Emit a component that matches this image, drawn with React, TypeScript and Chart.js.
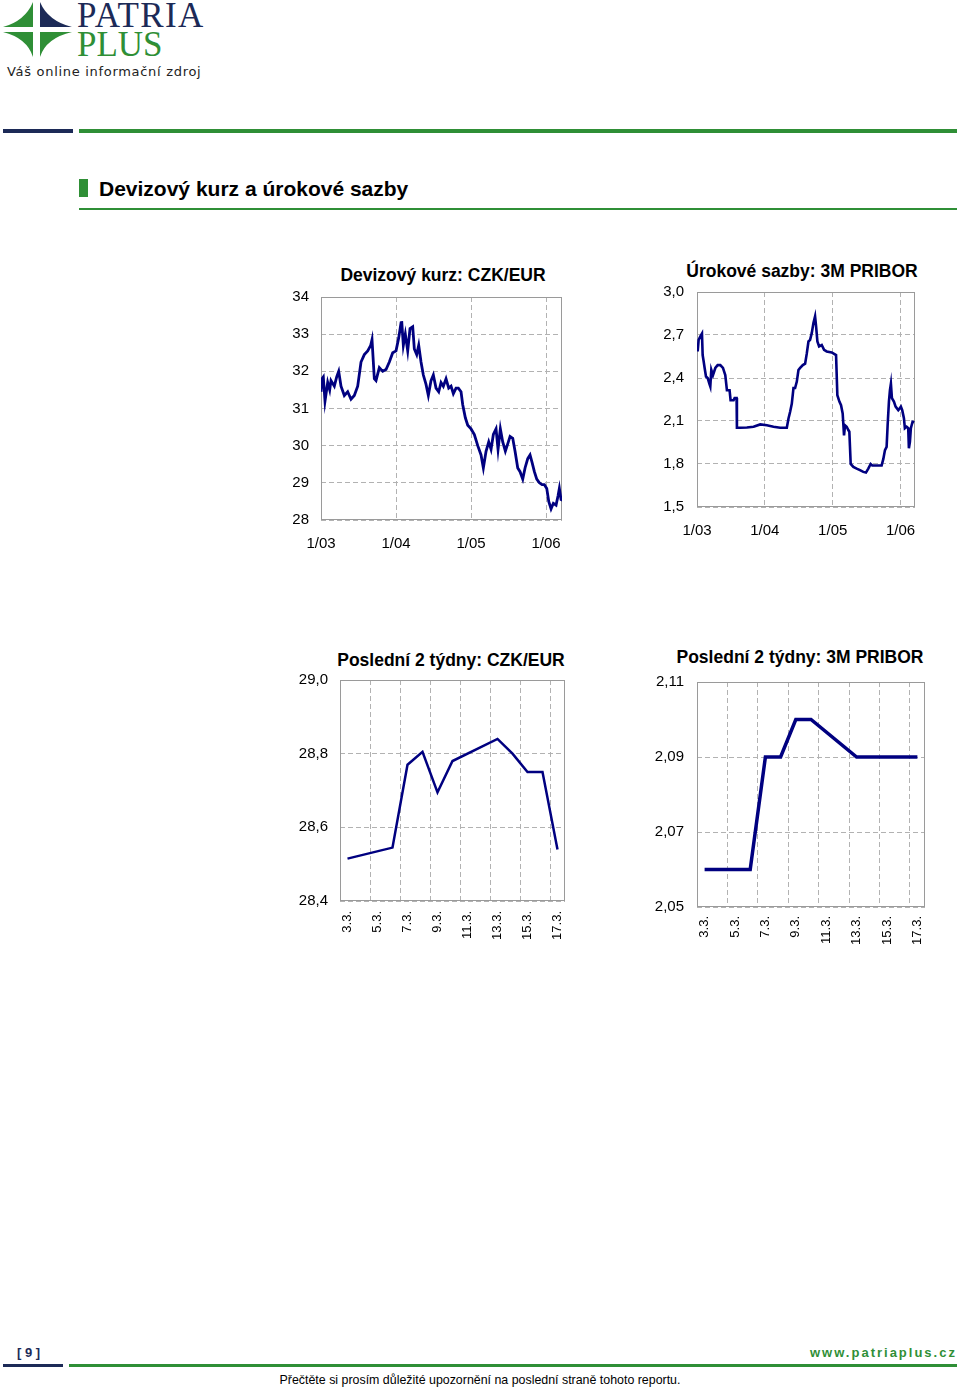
import React, { useEffect, useRef } from 'react';
import { Chart, registerables } from 'chart.js';

Chart.register(...registerables);

// ---------- data ----------
// CZK/EUR, x = months since 1/2003
const fxMonths = [
  0.0, 0.16, 0.37, 0.64, 1.07, 1.39, 1.6, 2.13, 2.51, 2.83, 3.2, 3.73, 4.27, 4.8, 5.33, 5.87,
  6.4, 6.93, 7.47, 7.95, 8.16, 8.53, 8.8, 9.33, 9.87, 10.4, 10.93, 11.47, 12.0, 12.43, 12.8,
  12.91, 13.17, 13.49, 13.87, 14.24, 14.67, 14.93, 15.31, 15.63, 16.0, 16.37, 16.8, 17.17,
  17.6, 17.97, 18.4, 18.83, 19.2, 19.57, 20.0, 20.43, 20.8, 21.17, 21.6, 21.97, 22.4, 22.67,
  23.09, 23.47, 24.0, 24.53, 25.07, 25.6, 25.97, 26.4, 26.83, 27.2, 27.57, 28.0, 28.32, 28.69,
  29.07, 29.49, 29.87, 30.24, 30.67, 31.04, 31.47, 31.84, 32.27, 32.64, 33.07, 33.44, 33.76,
  34.13, 34.51, 34.93, 35.36, 35.73, 36.11, 36.43, 36.8, 37.17, 37.6, 37.92, 38.13, 38.4, 38.52,
];
const fxValues = [
  31.45, 31.8, 31.85, 31.2, 31.7, 31.5, 31.75, 31.6, 31.85, 32.0, 31.6, 31.35, 31.45, 31.25, 31.35, 31.6,
  32.25, 32.45, 32.55, 32.7, 32.85, 31.8, 31.75, 32.1, 32.0, 32.05, 32.25, 32.5, 32.55, 32.9, 33.3,
  33.35, 32.7, 33.0, 32.55, 33.15, 33.2, 32.6, 32.45, 32.7, 32.25, 31.9, 31.65, 31.35,
  31.75, 31.9, 31.55, 31.45, 31.7, 31.6, 31.8, 31.55, 31.6, 31.4, 31.55, 31.55, 31.45, 31.1,
  30.75, 30.55, 30.45, 30.3, 30.0, 29.75, 29.4, 29.85, 30.1, 29.9, 30.3, 30.45, 29.9, 30.45,
  30.1, 29.85, 30.05, 30.25, 30.2, 29.85, 29.4, 29.3, 29.1, 29.4, 29.65, 29.75, 29.55,
  29.3, 29.1, 29.0, 28.95, 28.95, 28.85, 28.5, 28.3, 28.45, 28.4, 28.65, 28.85, 28.55, 28.54,
];

// 3M PRIBOR, x = months since 1/2003
const priborMonths = [
  0.12, 0.29, 0.59, 0.88, 1.0, 1.18, 1.35, 1.59, 1.88, 2.18, 2.35, 2.53, 2.82, 3.24, 3.65, 4.12,
  4.59, 5.0, 5.29, 5.76, 5.94, 6.47, 6.65, 7.0, 7.06, 7.65, 8.82, 10.0, 11.18, 12.35, 13.53,
  14.71, 15.88, 16.18, 16.47, 16.76, 17.06, 17.35, 17.65, 17.94, 18.24, 18.71, 19.12, 19.41,
  19.71, 20.0, 20.29, 20.59, 20.88, 21.06, 21.29, 21.59, 22.06, 22.47, 22.94, 23.82, 24.59,
  24.82, 25.18, 25.47, 25.76, 26.0, 26.18, 26.47, 26.76, 26.94, 27.18, 27.65, 28.24, 28.82,
  29.41, 29.88, 30.29, 30.71, 31.0, 31.76, 32.65, 32.94, 33.24, 33.53, 33.71, 33.94, 34.12,
  34.29, 34.47, 34.82, 35.12, 35.59, 35.88, 36.06, 36.29, 36.59, 36.76, 37.06, 37.35, 37.47,
  37.65, 37.82, 38.12, 38.41, 38.52,
];
const priborValues = [
  2.585, 2.666, 2.69, 2.71, 2.56, 2.515, 2.47, 2.41, 2.4, 2.36, 2.34, 2.457, 2.42, 2.47, 2.49, 2.49,
  2.47, 2.42, 2.315, 2.315, 2.245, 2.245, 2.26, 2.26, 2.053, 2.053, 2.055, 2.06, 2.076, 2.07, 2.06,
  2.053, 2.053, 2.118, 2.165, 2.22, 2.33, 2.33, 2.375, 2.456, 2.47, 2.49, 2.5, 2.57,
  2.655, 2.666, 2.713, 2.783, 2.83, 2.76, 2.655, 2.62, 2.63, 2.596, 2.585, 2.578, 2.56,
  2.28, 2.235, 2.21, 2.153, 2.0, 2.07, 2.06, 2.037, 2.025, 1.8, 1.78, 1.768, 1.757,
  1.745, 1.74, 1.768, 1.8, 1.79, 1.79, 1.79, 1.834, 1.897, 1.92, 2.07, 2.235, 2.315,
  2.36, 2.26, 2.235, 2.2, 2.176, 2.19, 2.2, 2.176, 2.12, 2.05, 2.06, 2.05, 1.91,
  1.955, 2.05, 2.095, 2.09, 2.09,
];
const yearTickLabels = ['1/03', '1/04', '1/05', '1/06'];

// last two weeks (calendar days, weekends empty)
const dayLabels = [
  '3.3.', '4.3.', '5.3.', '6.3.', '7.3.', '8.3.', '9.3.', '10.3.',
  '11.3.', '12.3.', '13.3.', '14.3.', '15.3.', '16.3.', '17.3.',
];
const fxTwoWeeks = [28.515, null, null, 28.545, 28.77, 28.805, 28.695, 28.78, null, null, 28.84, 28.8, 28.75, 28.75, 28.54];
const priborTwoWeeks = [2.06, null, null, 2.06, 2.09, 2.09, 2.1, 2.1, null, null, 2.09, 2.09, 2.09, 2.09, 2.09];

const chartTitles = [
  'Devizový kurz: CZK/EUR',
  'Úrokové sazby: 3M PRIBOR',
  'Poslední 2 týdny: CZK/EUR',
  'Poslední 2 týdny: 3M PRIBOR',
];

// ---------- styles ----------
const NAVY = '#000080';
const GRID = '#b2b2b2';
const FRAME = '#9a9a9a';
const GREEN = '#2f8f36';
const DARKBLUE = '#1c2a57';
const FONT = "'Liberation Sans', Arial, Helvetica, sans-serif";

Chart.defaults.font.family = FONT;

const framePlugin = {
  id: 'plotFrame',
  beforeDatasetsDraw(chart: any) {
    const { ctx, chartArea } = chart;
    const l = Math.round(chartArea.left) + 0.5;
    const t = Math.round(chartArea.top) + 0.5;
    const r = Math.round(chartArea.right) - 0.5;
    const b = Math.round(chartArea.bottom) - 0.5;
    ctx.save();
    ctx.setLineDash([]);
    ctx.strokeStyle = FRAME;
    ctx.lineWidth = 1;
    ctx.strokeRect(l, t, r - l, b - t);
    ctx.restore();
  },
};

const fixW = (w: number) => (s: any) => {
  s.width = w;
  s.paddingTop = 0;
  s.paddingBottom = 0;
};
const fixH = (h: number) => (s: any) => {
  s.height = h;
  s.paddingLeft = 0;
  s.paddingRight = 0;
};

const comma = (d: number) => (v: any) => Number(v).toFixed(d).replace('.', ',');

interface Box {
  pad: { left: number; right: number; top: number; bottom: number };
  yW: number;
  yPad: number;
  xH: number;
  xPad: number;
}

const basePlugins = { legend: { display: false }, tooltip: { enabled: false }, title: { display: false } };

function timeConfig(xs: number[], ys: number[], yMin: number, yMax: number, yStep: number, fmt: (v: any) => string, lw: number, b: Box): any {
  return {
    type: 'line',
    data: {
      datasets: [
        {
          data: xs.map((x, i) => ({ x, y: ys[i] })),
          borderColor: NAVY,
          borderWidth: lw,
          pointRadius: 0,
          tension: 0,
        },
      ],
    },
    options: {
      responsive: false,
      animation: false,
      layout: { padding: b.pad, autoPadding: false },
      plugins: basePlugins,
      scales: {
        x: {
          type: 'linear',
          min: 0,
          max: 38.55,
          afterFit: fixH(b.xH),
          border: { display: false, dash: [5, 3] },
          grid: { drawTicks: false, color: (c: any) => (c.tick && c.tick.value > 0 ? GRID : 'transparent') },
          ticks: {
            stepSize: 12,
            includeBounds: false,
            autoSkip: false,
            maxRotation: 0,
            padding: b.xPad,
            color: '#000',
            font: { family: FONT, size: 15 },
            callback: (v: any) => yearTickLabels[Math.round(Number(v) / 12)],
          },
        },
        y: {
          min: yMin,
          max: yMax,
          afterFit: fixW(b.yW),
          border: { display: false, dash: [5, 3] },
          grid: { drawTicks: false, color: GRID },
          ticks: { stepSize: yStep, padding: b.yPad, color: '#000', font: { family: FONT, size: 15 }, callback: fmt },
        },
      },
    },
    plugins: [framePlugin],
  };
}

function dayConfig(values: (number | null)[], yMin: number, yMax: number, yStep: number, fmt: (v: any) => string, lw: number, b: Box): any {
  return {
    type: 'line',
    data: {
      labels: dayLabels,
      datasets: [
        {
          data: values,
          spanGaps: true,
          borderColor: NAVY,
          borderWidth: lw,
          pointRadius: 0,
          tension: 0,
        },
      ],
    },
    options: {
      responsive: false,
      animation: false,
      layout: { padding: b.pad, autoPadding: false },
      plugins: basePlugins,
      scales: {
        x: {
          type: 'category',
          offset: true,
          afterFit: fixH(b.xH),
          border: { display: false, dash: [5, 3] },
          grid: {
            offset: true,
            drawTicks: false,
            color: (c: any) => (c.index > 0 && c.index < dayLabels.length && c.index % 2 === 0 ? GRID : 'transparent'),
          },
          ticks: {
            autoSkip: false,
            minRotation: 90,
            maxRotation: 90,
            padding: b.xPad,
            color: '#000',
            font: { family: FONT, size: 13 },
            callback: (_v: any, i: number) => (i % 2 === 0 ? dayLabels[i] : ''),
          },
        },
        y: {
          min: yMin,
          max: yMax,
          afterFit: fixW(b.yW),
          border: { display: false, dash: [5, 3] },
          grid: { drawTicks: false, color: GRID },
          ticks: { stepSize: yStep, padding: b.yPad, color: '#000', font: { family: FONT, size: 15 }, callback: fmt },
        },
      },
    },
    plugins: [framePlugin],
  };
}

function ChartCanvas(props: { make: () => any; left: number; top: number; width: number; height: number }) {
  const ref = useRef<HTMLCanvasElement>(null);
  useEffect(() => {
    const chart = new Chart(ref.current as HTMLCanvasElement, props.make());
    return () => chart.destroy();
  }, []);
  return (
    <canvas
      ref={ref}
      width={props.width}
      height={props.height}
      style={{ position: 'absolute', left: props.left, top: props.top, width: props.width, height: props.height }}
    />
  );
}

const titleStyle = { fontFamily: FONT, fontWeight: 'bold' as const, fontSize: 17.5, fill: '#000' };

export default function App() {
  return (
    <div style={{ position: 'absolute', left: 0, top: 0, width: 960, height: 1388, background: '#fff', overflow: 'hidden' }}>
      <svg width={960} height={1388} style={{ position: 'absolute', left: 0, top: 0 }}>
        {/* logo */}
        <path d="M33,2 L33,27 L3,27 Q25,21 33,2 Z" fill={GREEN} />
        <path d="M40,2 L40,27 L72,27 Q48,21 40,2 Z" fill={DARKBLUE} />
        <path d="M3,32 L33,32 L33,57 Q27,38 3,32 Z" fill={GREEN} />
        <path d="M40,32 L72,32 Q46,38 40,57 Z" fill={GREEN} />
        <text x={77} y={27} fontFamily="'Liberation Serif', serif" fontSize={35} letterSpacing={1.4} fill={DARKBLUE}>PATRIA</text>
        <text x={77} y={56} fontFamily="'Liberation Serif', serif" fontSize={35} fill={GREEN}>PLUS</text>
        <text x={7} y={76} fontFamily="'DejaVu Sans', sans-serif" fontSize={13} letterSpacing={0.7} fill="#222">Váš online informační zdroj</text>
        {/* header rules */}
        <rect x={3} y={129} width={70} height={4} fill={DARKBLUE} />
        <rect x={79} y={129} width={878} height={4} fill={GREEN} />
        <rect x={79} y={179} width={9} height={18} fill={GREEN} />
        <text x={99} y={196} fontFamily={FONT} fontWeight="bold" fontSize={21} fill="#000">Devizový kurz a úrokové sazby</text>
        <rect x={79} y={208} width={878} height={2} fill={GREEN} />
        {/* chart titles */}
        <text x={443} y={281} textAnchor="middle" {...titleStyle}>{chartTitles[0]}</text>
        <text x={802} y={277} textAnchor="middle" {...titleStyle}>{chartTitles[1]}</text>
        <text x={451} y={666} textAnchor="middle" {...titleStyle}>{chartTitles[2]}</text>
        <text x={800} y={663} textAnchor="middle" {...titleStyle}>{chartTitles[3]}</text>
        {/* footer */}
        <text x={17} y={1357} fontFamily={FONT} fontWeight="bold" fontSize={13} fill={DARKBLUE}>[ 9 ]</text>
        <text x={810} y={1357} fontFamily={FONT} fontWeight="bold" fontSize={13} fill={GREEN} letterSpacing={2}>www.patriaplus.cz</text>
        <rect x={3} y={1364} width={60} height={3} fill={DARKBLUE} />
        <rect x={69} y={1364} width={888} height={3} fill={GREEN} />
        <text x={480} y={1384} textAnchor="middle" fontFamily={FONT} fontSize={12.4} fill="#000">
          Přečtěte si prosím důležité upozornění na poslední straně tohoto reportu.
        </text>
      </svg>

      <ChartCanvas
        left={280}
        top={255}
        width={324}
        height={305}
        make={() =>
          timeConfig(fxMonths, fxValues, 28, 34, 1, (v) => String(v), 2.8, {
            pad: { left: 0, right: 42, top: 42, bottom: 7 },
            yW: 41,
            yPad: 12,
            xH: 33,
            xPad: 15,
          })
        }
      />
      <ChartCanvas
        left={640}
        top={250}
        width={300}
        height={310}
        make={() =>
          timeConfig(priborMonths, priborValues, 1.5, 3.0, 0.3, comma(1), 2.6, {
            pad: { left: 0, right: 25, top: 42, bottom: 20 },
            yW: 57,
            yPad: 13,
            xH: 33,
            xPad: 15,
          })
        }
      />
      <ChartCanvas
        left={285}
        top={630}
        width={300}
        height={320}
        make={() =>
          dayConfig(fxTwoWeeks, 28.4, 29.0, 0.2, comma(1), 2.5, {
            pad: { left: 0, right: 20, top: 50, bottom: 9 },
            yW: 55,
            yPad: 12,
            xH: 40,
            xPad: 10,
          })
        }
      />
      <ChartCanvas
        left={640}
        top={625}
        width={300}
        height={330}
        make={() =>
          dayConfig(priborTwoWeeks, 2.05, 2.11, 0.02, comma(2), 3.5, {
            pad: { left: 0, right: 15, top: 57, bottom: 8 },
            yW: 57,
            yPad: 13,
            xH: 40,
            xPad: 9,
          })
        }
      />
    </div>
  );
}
